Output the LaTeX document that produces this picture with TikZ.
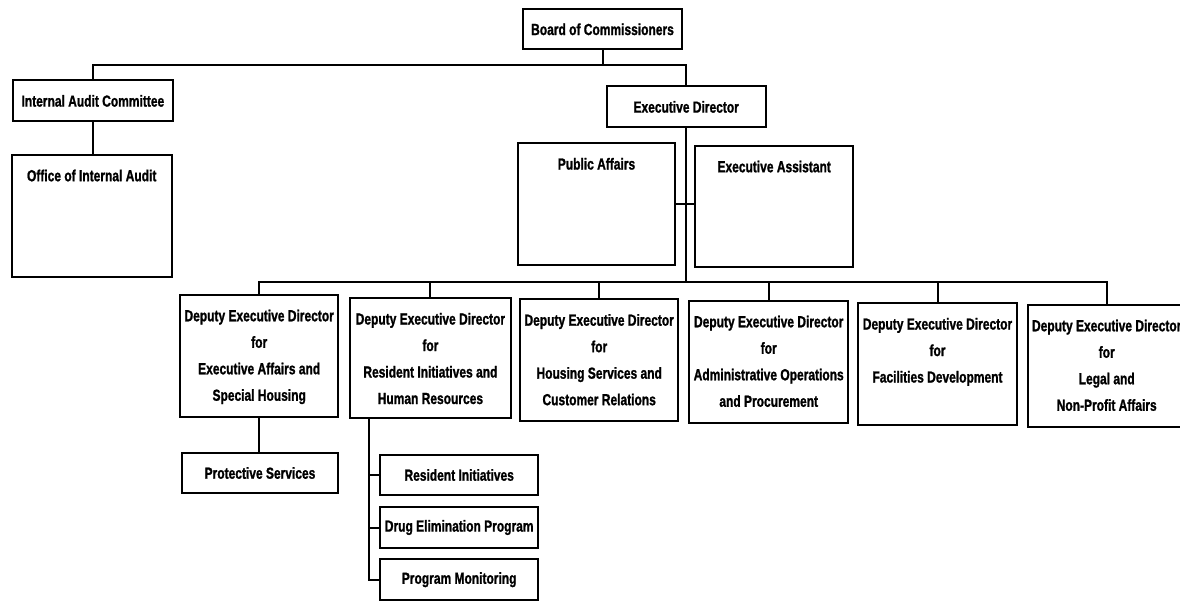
\documentclass[tikz,border=0pt]{standalone}
\usepackage{fontspec}
\newfontfamily\orgfont{Liberation Sans}[FakeStretch=0.75,FakeBold=1.2]
\begin{document}
\begin{tikzpicture}[x=1pt,y=-1pt,
  orgbox/.style={draw, line width=2pt, inner sep=0pt, font=\orgfont\bfseries\fontsize{16}{26.5}\selectfont},
  small/.style={orgbox, minimum width=159pt, minimum height=41pt},
  tall/.style={orgbox, minimum width=159pt, minimum height=121pt},
  toptext/.style={anchor=north, inner sep=0pt, align=center, font=\orgfont\bfseries\fontsize{16}{26.5}\selectfont},
  link/.style={line width=2pt}]
\useasboundingbox (0,0) rectangle (1180,601);
\clip (0,0) rectangle (1180,601);
% top level
\node[small, minimum height=40pt] (board) at (602.5,29.3) {Board of Commissioners};
\node[small, minimum width=160pt] (iac) at (92.9,100.9) {Internal Audit Committee};
\node[tall, minimum width=160pt, minimum height=121.7pt] (office) at (91.7,215.9) {};
\node[toptext] (officet) at ([yshift=-15pt]office.north) {\rule{0pt}{12pt}Office of Internal Audit};
\node[small] (ed) at (686.2,106.9) {Executive Director};
\node[tall, minimum width=157pt, minimum height=121.7pt] (pa) at (596.5,204.2) {};
\node[toptext] (pat) at ([yshift=-15pt]pa.north) {\rule{0pt}{12pt}Public Affairs};
\node[tall, minimum width=158.3pt, minimum height=120.7pt] (ea) at (774.2,206.4) {};
\node[toptext] (eat) at ([yshift=-15pt]ea.north) {\rule{0pt}{12pt}Executive Assistant};
% deputies
\node[tall, minimum width=158.3pt, minimum height=121.7pt] (d1) at (259.2,355.9) {};
\node[toptext] (d1t) at ([yshift=-15pt]d1.north) {\rule{0pt}{12pt}Deputy Executive Director\\for\\Executive Affairs and\\Special Housing};
\node[tall, minimum width=160.7pt, minimum height=120pt] (d2) at (430.4,358.3) {};
\node[toptext] (d2t) at ([yshift=-15pt]d2.north) {\rule{0pt}{12pt}Deputy Executive Director\\for\\Resident Initiatives and\\Human Resources};
\node[tall, minimum width=158.3pt, minimum height=121pt] (d3) at (599.2,360) {};
\node[toptext] (d3t) at ([yshift=-15pt]d3.north) {\rule{0pt}{12pt}Deputy Executive Director\\for\\Housing Services and\\Customer Relations};
\node[tall, minimum width=159.3pt, minimum height=121.7pt] (d4) at (768.7,361.9) {};
\node[toptext] (d4t) at ([yshift=-15pt]d4.north) {\rule{0pt}{12pt}Deputy Executive Director\\for\\Administrative Operations\\and Procurement};
\node[tall, minimum width=158.4pt, minimum height=121.7pt] (d5) at (937.5,364.2) {};
\node[toptext] (d5t) at ([yshift=-15pt]d5.north) {\rule{0pt}{12pt}Deputy Executive Director\\for\\Facilities Development};
\node[tall, minimum width=158pt, minimum height=121.7pt] (d6) at (1106.7,365.9) {};
\node[toptext] (d6t) at ([yshift=-15pt]d6.north) {\rule{0pt}{12pt}Deputy Executive Director\\for\\Legal and\\Non-Profit Affairs};
% lower boxes
\node[small, minimum width=156.6pt, minimum height=40.6pt] (prot) at (260,473) {Protective Services};
\node[small, minimum width=158.3pt, minimum height=40pt] (ri) at (459.2,475) {Resident Initiatives};
\node[small, minimum width=158.3pt, minimum height=40.4pt] (de) at (459.2,527.5) {Drug Elimination Program};
\node[small, minimum width=158.3pt, minimum height=40.7pt] (pm) at (459.2,579.7) {Program Monitoring};
% connectors
\coordinate (bus1) at (602.5,65);
\coordinate (bus2) at (686,282);
\draw[link] (board.south) -- (bus1);
\draw[link] (iac.north) |- (bus1) -| (ed.north);
\draw[link] (iac.south) -- (iac.south |- office.north);
\draw[link] (ed.south) -- (ed.south |- bus2);
\draw[link] (pa.east) -- (pa.east -| ea.west);
\draw[link] (d1.north) |- (d6.north |- bus2) -- (d6.north);
\foreach \d in {d2,d3,d4,d5}{\draw[link] (\d.north) -- (\d.north |- bus2);}
\draw[link] (d1.south) -- (d1.south |- prot.north);
\coordinate (spine) at ([xshift=20pt]d2.south west);
\draw[link] (spine) |- (pm.west);
\draw[link] (spine |- ri.west) -- (ri.west);
\draw[link] (spine |- de.west) -- (de.west);
\end{tikzpicture}
\end{document}
